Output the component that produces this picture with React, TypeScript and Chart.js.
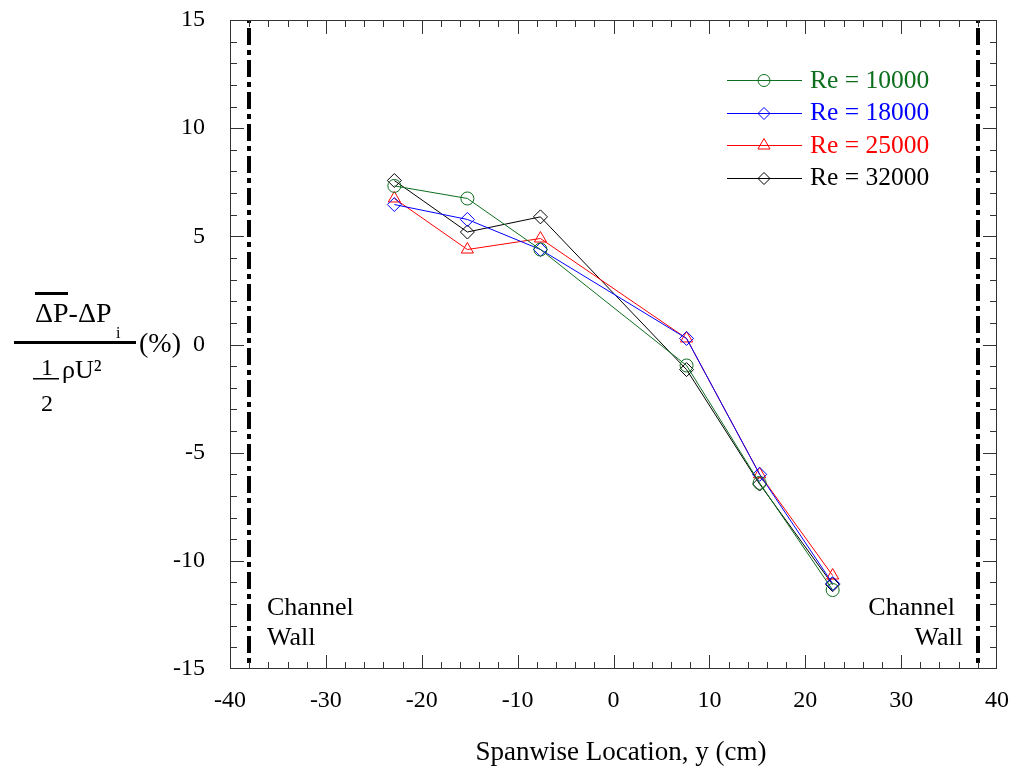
import React, { useEffect, useRef } from 'react';
import { Chart, registerables } from 'chart.js';

Chart.register(...registerables);

// ---- data ----
const positions = [-22.86, -15.24, -7.62, 7.62, 15.24, 22.86];
const re10000 = [7.33, 6.75, 4.39, -0.97, -6.4, -11.35];
const re18000 = [6.47, 5.78, 4.39, 0.28, -6.0, -11.05];
const re25000 = [6.75, 4.39, 4.9, 0.28, -6.0, -10.68];
const re32000 = [7.58, 5.2, 5.9, -1.16, -6.45, -11.1];
const seriesLabels = ['Re = 10000', 'Re = 18000', 'Re = 25000', 'Re = 32000'];
const seriesValues = [re10000, re18000, re25000, re32000];
const seriesColors = ['#0d6e1d', '#0000ff', '#ff0000', '#000000'];
const seriesMarkers = ['circle', 'rectRot', 'triangle', 'rectRot'];
const seriesRadius = [6.5, 7, 7, 7];
const wallPositions = [-38, 38];
const wallLabel = ['Channel', 'Wall'];
const xTitle = 'Spanwise Location, y (cm)';

const FONT = "'Liberation Serif', 'Times New Roman', serif";

function drawMarker(ctx: CanvasRenderingContext2D, style: string, x: number, y: number, r: number) {
  ctx.beginPath();
  if (style === 'circle') {
    ctx.arc(x, y, r, 0, Math.PI * 2);
  } else if (style === 'rectRot') {
    ctx.moveTo(x, y - r);
    ctx.lineTo(x + r, y);
    ctx.lineTo(x, y + r);
    ctx.lineTo(x - r, y);
    ctx.closePath();
  } else if (style === 'triangle') {
    const s = Math.sqrt(3) / 2;
    ctx.moveTo(x, y - r);
    ctx.lineTo(x + r * s, y + r / 2);
    ctx.lineTo(x - r * s, y + r / 2);
    ctx.closePath();
  }
  ctx.stroke();
}

const decorPlugin = {
  id: 'decor',
  beforeDatasetsDraw(chart: any) {
    const { ctx, chartArea: a, scales } = chart;
    const x = scales.x;
    ctx.save();
    ctx.strokeStyle = '#000';
    ctx.lineWidth = 4;
    ctx.setLineDash([17, 5, 5, 5]);
    ctx.lineDashOffset = -8;
    for (const w of wallPositions) {
      const px = Math.round(x.getPixelForValue(w));
      ctx.beginPath();
      ctx.moveTo(px, a.top);
      ctx.lineTo(px, a.bottom);
      ctx.stroke();
    }
    ctx.restore();
  },
  afterDraw(chart: any) {
    const { ctx, chartArea: a, scales } = chart;
    const x = scales.x;
    const y = scales.y;
    ctx.save();
    // frame
    ctx.strokeStyle = '#333';
    ctx.lineWidth = 1;
    ctx.strokeRect(Math.round(a.left) + 0.5, Math.round(a.top) + 0.5, Math.round(a.right - a.left) - 1, Math.round(a.bottom - a.top) - 1);
    // ticks inward
    ctx.beginPath();
    for (let v = x.min + 2; v < x.max; v += 2) {
      const px = Math.round(x.getPixelForValue(v)) + 0.5;
      const len = v % 10 === 0 ? 14 : 7;
      ctx.moveTo(px, a.bottom);
      ctx.lineTo(px, a.bottom - len);
      ctx.moveTo(px, a.top);
      ctx.lineTo(px, a.top + len);
    }
    for (let v = y.min + 1; v < y.max; v += 1) {
      const py = Math.round(y.getPixelForValue(v)) + 0.5;
      const len = v % 5 === 0 ? 14 : 7;
      ctx.moveTo(a.left, py);
      ctx.lineTo(a.left + len, py);
      ctx.moveTo(a.right, py);
      ctx.lineTo(a.right - len, py);
    }
    ctx.stroke();

    // channel wall labels
    ctx.fillStyle = '#000';
    ctx.font = `26px ${FONT}`;
    ctx.textBaseline = 'alphabetic';
    ctx.textAlign = 'left';
    ctx.fillText(wallLabel[0], 267, 615);
    ctx.fillText(wallLabel[1], 267, 645);
    ctx.textAlign = 'right';
    ctx.fillText(wallLabel[0], 955, 615);
    ctx.fillText(wallLabel[1], 963, 645);

    // legend
    ctx.textAlign = 'left';
    ctx.textBaseline = 'middle';
    ctx.font = `25.5px ${FONT}`;
    seriesLabels.forEach((lab, i) => {
      const cy = 80 + i * 32.5;
      ctx.strokeStyle = seriesColors[i];
      ctx.lineWidth = 1;
      ctx.beginPath();
      ctx.moveTo(727, Math.round(cy) + 0.5);
      ctx.lineTo(802, Math.round(cy) + 0.5);
      ctx.stroke();
      drawMarker(ctx, seriesMarkers[i], 764, Math.round(cy) + 0.5, i === 0 ? 6 : i === 2 ? 7 : 6);
      ctx.fillStyle = seriesColors[i];
      ctx.fillText(lab, 810, cy + 1);
    });

    // x title
    ctx.fillStyle = '#000';
    ctx.textAlign = 'center';
    ctx.textBaseline = 'alphabetic';
    ctx.font = `27px ${FONT}`;
    ctx.fillText(xTitle, 621, 760);

    // y title (fraction)
    ctx.textAlign = 'left';
    ctx.font = `28px ${FONT}`;
    ctx.fillText('\u0394P-\u0394P', 35, 322);
    ctx.fillRect(35, 292, 33, 3);
    ctx.font = `16px ${FONT}`;
    ctx.fillText('i', 116, 338);
    ctx.fillRect(14, 341, 122, 3);
    ctx.font = `28px ${FONT}`;
    ctx.fillText('(%)', 139, 352);
    ctx.font = `24px ${FONT}`;
    ctx.textAlign = 'center';
    ctx.fillText('1', 47, 375);
    ctx.fillText('2', 47, 411);
    ctx.fillRect(33, 378, 26, 1.5);
    ctx.textAlign = 'left';
    ctx.font = `26px ${FONT}`;
    ctx.fillText('\u03c1U\u00b2', 62, 378);
    ctx.restore();
  },
};

export default function App() {
  const ref = useRef<HTMLCanvasElement>(null);
  useEffect(() => {
    document.body.style.margin = '0';
    const chart = new Chart(ref.current as HTMLCanvasElement, {
      type: 'line',
      data: {
        datasets: seriesLabels.map((label, i) => ({
          label,
          data: positions.map((p, j) => ({ x: p, y: seriesValues[i][j] })),
          borderColor: seriesColors[i],
          backgroundColor: 'rgba(0,0,0,0)',
          borderWidth: 1,
          pointStyle: seriesMarkers[i] as any,
          pointRadius: seriesRadius[i],
          pointBorderWidth: 1,
          pointBackgroundColor: 'rgba(0,0,0,0)',
          pointBorderColor: seriesColors[i],
          fill: false,
          tension: 0,
        })),
      },
      options: {
        animation: false,
        responsive: true,
        maintainAspectRatio: false,
        layout: { padding: { left: 0, top: 20, right: 16, bottom: 0 } },
        plugins: { legend: { display: false }, tooltip: { enabled: false } },
        scales: {
          x: {
            type: 'linear',
            min: -40,
            max: 40,
            grid: { display: false, drawTicks: false },
            border: { display: false },
            ticks: { stepSize: 10, color: '#000', font: { family: FONT, size: 24 }, padding: 17, maxRotation: 0 },
            afterFit: (s: any) => {
              s.height = 103;
              s.paddingLeft = 0;
              s.paddingRight = 0;
            },
          },
          y: {
            type: 'linear',
            min: -15,
            max: 15,
            grid: { display: false, drawTicks: false },
            border: { display: false },
            ticks: { stepSize: 5, color: '#000', font: { family: FONT, size: 24 }, padding: 25 },
            afterFit: (s: any) => {
              s.width = 230;
              s.paddingTop = 0;
              s.paddingBottom = 0;
            },
          },
        },
      },
      plugins: [decorPlugin],
    });
    return () => chart.destroy();
  }, []);
  return (
    <div style={{ width: 1013, height: 772, position: 'relative' }}>
      <canvas ref={ref} />
    </div>
  );
}
